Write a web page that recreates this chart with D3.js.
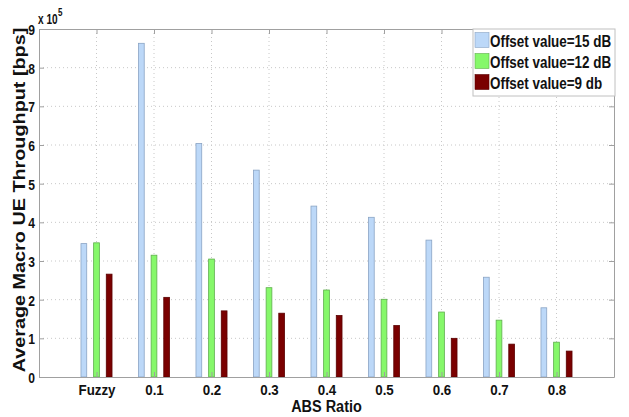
<!DOCTYPE html>
<html>
<head>
<meta charset="utf-8">
<script src="https://cdn.jsdelivr.net/npm/d3@7"></script>
<style>
  html, body { margin: 0; padding: 0; background: #fff; }
  svg { display: block; }
  text { font-family: "Liberation Sans", Arial, "DejaVu Sans", sans-serif; font-weight: bold; fill: #111; }
</style>
</head>
<body>
<svg id="chart" width="629" height="417"></svg>
<script>
const categories = ["Fuzzy", "0.1", "0.2", "0.3", "0.4", "0.5", "0.6", "0.7", "0.8"];
const offset15 = [345000, 863000, 604000, 535000, 442000, 413000, 354000, 258000, 179000];
const offset12 = [347000, 315000, 305000, 231000, 225000, 201000, 168000, 147000, 90000];
const offset9  = [266000, 206000, 171000, 165000, 159000, 133000, 100000, 85000, 67000];
const seriesNames = ["Offset value=15 dB", "Offset value=12 dB", "Offset value=9 db"];
const yTicks = [0, 100000, 200000, 300000, 400000, 500000, 600000, 700000, 800000, 900000];

const seriesValues = [offset15, offset12, offset9];
const fills = ["#bcd8f8", "#86f86a", "#7a0000"];
const strokes = ["#8aa4c4", "#5fae4c", "#5a0000"];
const offsets = [-0.22, 0, 0.22];
const barW = 0.1;

// squeeze text horizontally around its anchor (the reference figure is stretched vertically)
function squeeze(sel, factor) {
  sel.each(function () {
    const t = d3.select(this);
    const tx = +t.attr("x") || 0, ty = +t.attr("y") || 0;
    t.attr("x", 0).attr("y", 0)
     .attr("transform", `translate(${tx},${ty}) scale(${factor},1)`);
  });
}

const svg = d3.select("#chart");
const L = 39, R = 614, T = 29, B = 377;

const x = d3.scaleLinear().domain([0, categories.length + 1]).range([L, R]);
const y = d3.scaleLinear().domain([0, 900000]).range([B, T]);

// grid
const grid = svg.append("g");
grid.selectAll("line.hg").data(yTicks.slice(1, -1)).join("line")
  .attr("x1", L).attr("x2", R).attr("y1", d => y(d)).attr("y2", d => y(d))
  .attr("stroke", "#c8c8c8").attr("stroke-width", 1).attr("stroke-dasharray", "1,3");
grid.selectAll("line.vg").data(categories).join("line")
  .attr("x1", (d, i) => x(i + 1)).attr("x2", (d, i) => x(i + 1)).attr("y1", T).attr("y2", B)
  .attr("stroke", "#c8c8c8").attr("stroke-width", 1).attr("stroke-dasharray", "1,3");

// bars
seriesValues.forEach((vals, s) => {
  svg.append("g").selectAll("rect").data(vals).join("rect")
    .attr("x", (d, i) => x(i + 1 + offsets[s] - barW / 2))
    .attr("width", x(barW) - x(0))
    .attr("y", d => y(d))
    .attr("height", d => B - y(d))
    .attr("fill", fills[s])
    .attr("stroke", strokes[s]).attr("stroke-width", 0.8);
});

// axes box
const axisColor = "#a0a0a0";
const yAxis = d3.axisLeft(y).tickValues(yTicks).tickFormat(d => d / 100000).tickSizeInner(-5).tickSizeOuter(0).tickPadding(4);
const gy = svg.append("g").attr("transform", `translate(${L},0)`).call(yAxis);
const yAxisR = d3.axisRight(y).tickValues(yTicks).tickFormat("").tickSizeInner(-5).tickSizeOuter(0);
const gyr = svg.append("g").attr("transform", `translate(${R},0)`).call(yAxisR);
const xAxis = d3.axisBottom(x).tickValues(d3.range(1, categories.length + 1)).tickFormat(d => categories[d - 1]).tickSizeInner(-5).tickSizeOuter(0);
const gx = svg.append("g").attr("transform", `translate(0,${B})`).call(xAxis);
const xAxisT = d3.axisTop(x).tickValues(d3.range(1, categories.length + 1)).tickFormat("").tickSizeInner(-5).tickSizeOuter(0);
const gxt = svg.append("g").attr("transform", `translate(0,${T})`).call(xAxisT);
[gy, gyr, gx, gxt].forEach(g => {
  g.attr("font-family", null).attr("font-size", null);
  g.selectAll(".domain").attr("stroke", axisColor);
  g.selectAll(".tick line").attr("stroke", axisColor);
  g.selectAll("text").style("font-size", "15.5px").attr("fill", "#111");
});
gx.selectAll("text").attr("y", 18).attr("dy", 0);
gy.selectAll("text").attr("x", -4).attr("dy", "0.36em");
squeeze(gx.selectAll("text"), 0.86);
squeeze(gy.selectAll("text"), 0.78);

// exponent label
const ex = svg.append("text").attr("x", 38).attr("y", 24).style("font-size", "14px").text("x 10");
squeeze(ex, 0.72);
const exp = svg.append("text").attr("x", 58).attr("y", 16).style("font-size", "10px").text("5");
squeeze(exp, 0.8);

// axis titles
const xt = svg.append("text").attr("x", (L + R) / 2).attr("y", 412).attr("text-anchor", "middle")
  .style("font-size", "17px").text("ABS Ratio");
squeeze(xt, 0.85);
const yt = svg.append("text").attr("transform", `translate(25,200) rotate(-90) scale(1.2,1)`).attr("text-anchor", "middle")
  .style("font-size", "16.5px").text("Average Macro UE Throughput [bps]");

// legend
const lg = svg.append("g");
lg.append("rect").attr("x", 473).attr("y", 29).attr("width", 142).attr("height", 67)
  .attr("fill", "#fff").attr("stroke", "#c0c0c0");
seriesNames.forEach((n, s) => {
  lg.append("rect").attr("x", 475).attr("y", 32.5 + s * 21).attr("width", 14).attr("height", 15)
    .attr("fill", fills[s]).attr("stroke", strokes[s]).attr("stroke-width", 0.6);
  const t = lg.append("text").attr("x", 490).attr("y", 47 + s * 21).style("font-size", "17px").text(n);
  squeeze(t, 0.79);
});
</script>
</body>
</html>
